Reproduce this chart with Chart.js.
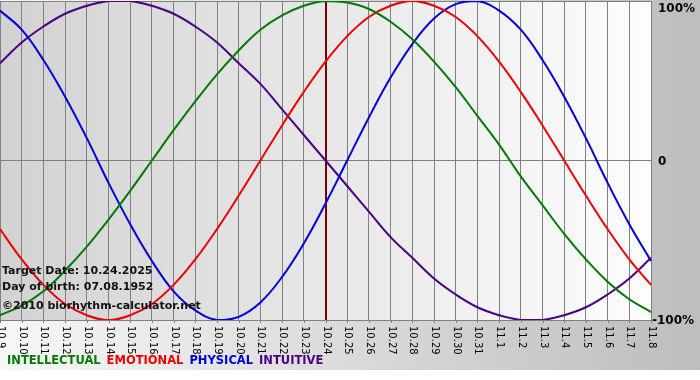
<!DOCTYPE html>
<html>
<head>
<meta charset="utf-8">
<script src="https://cdn.jsdelivr.net/npm/chart.js@4.4.1/dist/chart.umd.min.js"></script>
<style>
  html, body { margin: 0; padding: 0; background: #fff; }
  #wrap { width: 700px; height: 380px; }
</style>
</head>
<body>
<div id="wrap"><canvas id="bio" width="700" height="380"></canvas></div>
<script>
// days shown on the x axis (month.day)
const days = ['10.9', '10.10', '10.11', '10.12', '10.13', '10.14', '10.15', '10.16', '10.17', '10.18',
    '10.19', '10.20', '10.21', '10.22', '10.23', '10.24', '10.25', '10.26', '10.27', '10.28',
    '10.29', '10.30', '10.31', '11.1', '11.2', '11.3', '11.4', '11.5', '11.6', '11.7', '11.8'];

// cycle values in percent
const intellectual = [-97, -91, -82, -69, -54, -37, -19, 0, 19, 37, 54, 69, 82, 91, 97, 100,
    99, 95, 87, 76, 62, 46, 28, 10, -10, -28, -46, -62, -76, -87, -95];
const emotional = [-43, -62, -78, -90, -97, -100, -97, -90, -78, -62, -43, -22, 0, 22, 43, 62,
    78, 90, 97, 100, 97, 90, 78, 62, 43, 22, 0, -22, -43, -62, -78];
const physical = [94, 82, 63, 40, 14, -14, -40, -63, -82, -94, -100, -98, -89, -73, -52, -27,
    0, 27, 52, 73, 89, 98, 100, 94, 82, 63, 40, 14, -14, -40, -63];
const intuitive = [61, 74, 84, 92, 97, 100, 100, 97, 92, 84, 74, 61, 48, 32, 16, 0,
    -16, -32, -48, -61, -74, -84, -92, -97, -100, -100, -97, -92, -84, -74, -61];

const yTicks = [100, 0, -100];
const yTickLabels = ['100%', '0', '-100%'];
const targetDay = '10.24';
const infoLines = ['Target Date: 10.24.2025', 'Day of birth: 07.08.1952', '\u00a92010 biorhythm-calculator.net'];

const FONT = '"DejaVu Sans", Verdana, sans-serif';

const decor = {
    id: 'decor',
    beforeDraw(chart) {
        const { ctx, chartArea: a, width } = chart;
        ctx.save();
        // outer panel
        let g = ctx.createLinearGradient(0, 0, width, 0);
        g.addColorStop(0, '#f7f7f7');
        g.addColorStop(1, '#bdbdbd');
        ctx.fillStyle = g;
        ctx.fillRect(0, 0, width, 370);
        // plot area
        g = ctx.createLinearGradient(a.left, 0, a.right, 0);
        g.addColorStop(0, '#d2d2d2');
        g.addColorStop(1, '#fdfdfd');
        ctx.fillStyle = g;
        ctx.fillRect(a.left, a.top, a.right - a.left, a.bottom - a.top);
        ctx.restore();
    },
    beforeDatasetsDraw(chart) {
        const { ctx, chartArea: a } = chart;
        const x = Math.round(chart.scales.x.getPixelForValue(days.indexOf(targetDay)));
        ctx.save();
        ctx.strokeStyle = '#7a0000';
        ctx.lineWidth = 2;
        ctx.beginPath();
        ctx.moveTo(x, a.top);
        ctx.lineTo(x, a.bottom);
        ctx.stroke();
        ctx.restore();
    },
    afterDraw(chart) {
        const { ctx, chartArea: a } = chart;
        const xs = chart.scales.x, ys = chart.scales.y;
        ctx.save();

        // tick marks + vertical day labels
        ctx.strokeStyle = '#7f7f7f';
        ctx.lineWidth = 1;
        ctx.fillStyle = '#000';
        ctx.font = '10px ' + FONT;
        ctx.textAlign = 'left';
        ctx.textBaseline = 'middle';
        days.forEach((d, i) => {
            const x = Math.round(xs.getPixelForValue(i)) + 0.5;
            ctx.beginPath();
            ctx.moveTo(x, a.bottom);
            ctx.lineTo(x, a.bottom + 3);
            ctx.stroke();
            ctx.save();
            ctx.translate(x, a.bottom + 6);
            ctx.rotate(Math.PI / 2);
            ctx.fillText(d, 0, 0);
            ctx.restore();
        });

        // right axis labels
        ctx.font = 'bold 12px ' + FONT;
        yTicks.forEach((v, i) => {
            const y = Math.max(ys.getPixelForValue(v), a.top + 7);
            const lbl = yTickLabels[i];
            const x = lbl.startsWith('-') ? a.right + 1 : a.right + 7;
            ctx.fillText(lbl, x, y + 1);
        });

        // info text
        ctx.font = 'bold 11px ' + FONT;
        ctx.fillStyle = '#111';
        ctx.fillText(infoLines[0], 2, 271);
        ctx.fillText(infoLines[1], 2, 287);
        ctx.fillText(infoLines[2], 2, 306);

        // legend
        ctx.font = 'bold 11.5px ' + FONT;
        let lx = 7;
        chart.data.datasets.forEach(ds => {
            ctx.fillStyle = ds.borderColor;
            ctx.fillText(ds.label, lx, 361);
            lx += ctx.measureText(ds.label).width + 6;
        });
        ctx.restore();
    }
};

const makeSet = (label, data, color) => ({
    label: label,
    data: data,
    borderColor: color,
    borderWidth: 2,
    pointRadius: 0,
    tension: 0.4,
    fill: false
});

new Chart(document.getElementById('bio'), {
    type: 'line',
    data: {
        labels: days,
        datasets: [
            makeSet('INTELLECTUAL', intellectual, '#007a00'),
            makeSet('EMOTIONAL', emotional, '#ee0000'),
            makeSet('PHYSICAL', physical, '#0000dd'),
            makeSet('INTUITIVE', intuitive, '#4b0082')
        ]
    },
    options: {
        responsive: false,
        animation: false,
        layout: { padding: { left: 0, top: 1, right: 49, bottom: 60 } },
        plugins: { legend: { display: false }, tooltip: { enabled: false } },
        scales: {
            x: {
                type: 'category',
                offset: false,
                ticks: { display: false },
                grid: { color: '#808080', drawTicks: false },
                border: { display: false }
            },
            y: {
                position: 'right',
                min: -100,
                max: 100,
                ticks: { display: false, stepSize: 100 },
                grid: { color: '#808080', drawTicks: false },
                border: { display: false }
            }
        }
    },
    plugins: [decor]
});
</script>
</body>
</html>
